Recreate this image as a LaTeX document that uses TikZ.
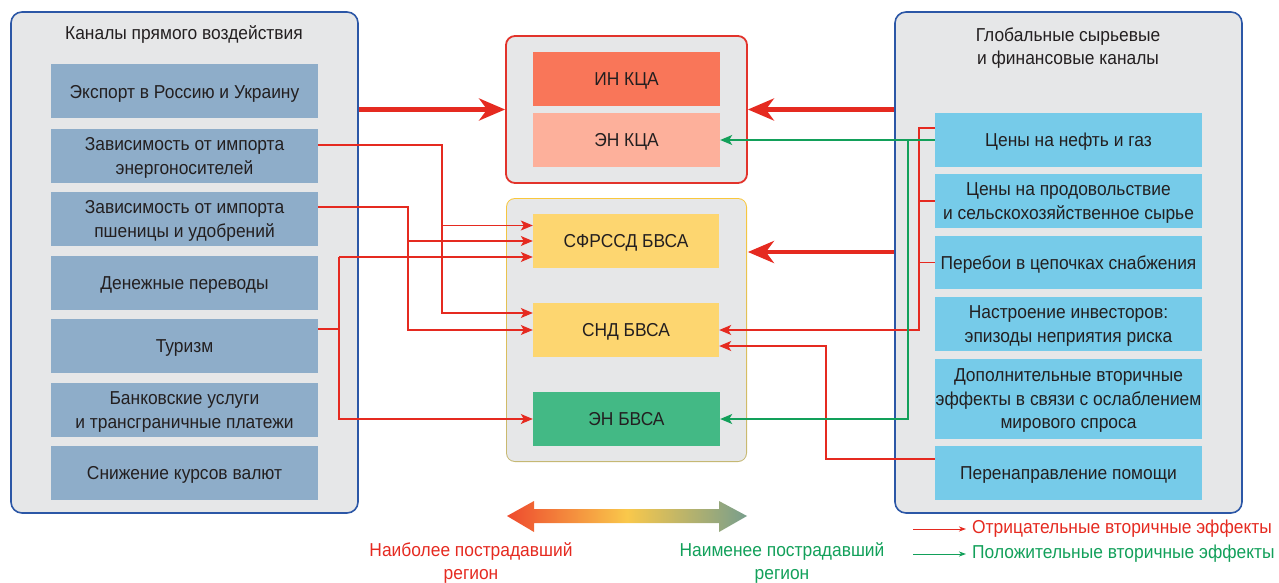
\documentclass[tikz,border=0pt]{standalone}
\usepackage{fontspec}
\setmainfont{Liberation Sans}[FakeStretch=0.93]
\usetikzlibrary{arrows.meta}
\definecolor{panelgray}{HTML}{E6E7E8}
\definecolor{panelblue}{HTML}{2C57A6}
\definecolor{leftbox}{HTML}{8EADC9}
\definecolor{rightbox}{HTML}{76CBE9}
\definecolor{inkca}{HTML}{F97659}
\definecolor{enkca}{HTML}{FDB09B}
\definecolor{bvsay}{HTML}{FDD670}
\definecolor{enbvsa}{HTML}{43B985}
\definecolor{negred}{HTML}{E52A20}
\definecolor{posgreen}{HTML}{12A05A}
\definecolor{kcaborder}{HTML}{E2332B}
\definecolor{bvsatop}{HTML}{F9C73C}
\definecolor{bvsabot}{HTML}{C5B874}
\definecolor{txt}{HTML}{231F20}
\definecolor{gradred}{HTML}{EE4A2E}
\definecolor{gradyellow}{HTML}{F9C84B}
\definecolor{gradgreen}{HTML}{789E8C}

\begin{document}
\begin{tikzpicture}[x=1pt,y=-1pt,line join=miter,
  every node/.style={font=\fontsize{18.7}{23.5}\selectfont,text=txt,align=center,inner sep=0pt},
  panel/.style={draw=panelblue,line width=1.6pt,fill=panelgray,rounded corners=11pt,minimum width=347pt,minimum height=501pt},
  container/.style={rounded corners=9pt,line width=1.8pt,minimum width=241pt},
  chan/.style={fill=leftbox,minimum width=267pt,minimum height=54pt,text depth=0pt},
  gchan/.style={fill=rightbox,minimum width=267pt,minimum height=54pt,text depth=0pt},
  region/.style={fill=#1,minimum width=187pt,minimum height=54pt,text depth=0pt},
  link/.style={draw=negred,line width=1.2pt},
  negline/.style={link,-{Stealth[length=12pt,width=10pt,inset=3pt]}},
  posline/.style={draw=posgreen,line width=1.2pt,-{Stealth[length=12pt,width=10pt,inset=3pt]}},
  bigarrow/.style={draw=negred,line width=4.5pt,-{Stealth[length=26pt,width=22pt,inset=8pt]}},
  legarrow/.style={draw=#1,line width=1pt,-{Stealth[length=7pt,width=5pt,inset=2pt]}}]
\useasboundingbox (0,0) rectangle (1279,583);

\node[panel] (direct) at (184.5,262.5) {};
\node (directtitle) at (184,35) {Каналы прямого воздействия};
\node[chan] (l1) at (184.5,91.5) {Экспорт в Россию и Украину};
\node[chan] (l2) at (184.5,156) {Зависимость от импорта\\энергоносителей};
\node[chan] (l3) at (184.5,219) {Зависимость от импорта\\пшеницы и удобрений};
\node[chan] (l4) at (184.5,283) {Денежные переводы};
\node[chan] (l5) at (184.5,346) {Туризм};
\node[chan] (l6) at (184.5,410) {Банковские услуги\\и трансграничные платежи};
\node[chan] (l7) at (184.5,473) {Снижение курсов валют};

\node[panel] (global) at (1068.5,262.5) {};
\node (globaltitle) at (1068,48) {Глобальные сырьевые\\и финансовые каналы};
\node[gchan] (r1) at (1068.5,140) {Цены на нефть и газ};
\node[gchan] (r2) at (1068.5,201) {Цены на продовольствие\\и сельскохозяйственное сырье};
\node[gchan,minimum height=53pt] (r3) at (1068.5,262.5) {Перебои в цепочках снабжения};
\node[gchan] (r4) at (1068.5,324) {Настроение инвесторов:\\эпизоды неприятия риска};
\node[gchan,minimum height=80pt] (r5) at (1068.5,399) {Дополнительные вторичные\\эффекты в связи с ослаблением\\мирового спроса};
\node[gchan] (r6) at (1068.5,473) {Перенаправление помощи};

\node[container,draw=kcaborder,fill=panelgray,minimum height=147pt] (kca) at (626.5,109.5) {};
\node[container,top color=bvsatop,bottom color=bvsabot,minimum height=264pt] (bvsa) at (626.5,330) {};
\fill[panelgray,rounded corners=7.5pt] ([shift={(2pt,-2pt)}]bvsa.north west) rectangle ([shift={(-2pt,2pt)}]bvsa.south east);
\node[region=inkca] (ink) at (626.5,79) {ИН КЦА};
\node[region=enkca] (enk) at (626.5,140) {ЭН КЦА};
\node[region=bvsay,minimum width=186pt] (sfr) at (626,241) {СФРССД БВСА};
\node[region=bvsay,minimum width=186pt] (snd) at (626,330) {СНД БВСА};
\node[region=enbvsa] (enb) at (626.5,419) {ЭН БВСА};

\draw[bigarrow] (direct.east |- kca.west) -- (kca.west);
\draw[bigarrow] (global.west |- kca.east) -- (kca.east);
\coordinate (sfrlow) at ([yshift=-11pt]sfr.east);
\draw[bigarrow] (global.west |- sfrlow) -- (bvsa.east |- sfrlow);

\coordinate (busA) at (442,0);
\coordinate (busB) at (408,0);
\coordinate (busC) at (339,0);
\coordinate (busD) at (919,0);
\coordinate (busE) at (908,0);
\coordinate (busF) at (826,0);
\coordinate (sfrA) at ([yshift=15.5pt]sfr.west);
\coordinate (sfrC) at ([yshift=-16pt]sfr.west);
\coordinate (sndA) at ([yshift=17pt]snd.west);
\coordinate (sndD) at ([yshift=-16pt]snd.east);
\coordinate (energy) at ([yshift=11pt]l2.east);
\coordinate (wheat) at ([yshift=12pt]l3.east);
\coordinate (tourism) at ([yshift=17pt]l5.east);
\coordinate (oilgas) at ([yshift=12pt]r1.west);
\coordinate (aid) at ([yshift=14pt]r6.west);

\draw[negline] (energy) -| (busA |- sndA) -- (sndA);
\draw[negline] (busA |- sfrA) -- (sfrA);
\draw[negline] (wheat) -| (busB |- snd.west) -- (snd.west);
\draw[negline] (busB |- sfr.west) -- (sfr.west);
\draw[link] (tourism) -- (tourism -| busC);
\draw[negline] (busC |- sfrC) -- (busC |- enb.west) -- (enb.west);
\draw[negline] (busC |- sfrC) -- (sfrC);

\draw[negline] (oilgas) -| (busD |- snd.east) -- (snd.east);
\draw[link] (r2.west) -- (r2.west -| busD);
\draw[link] (r3.west) -- (r3.west -| busD);
\draw[negline] (aid) -| (busF |- sndD) -- (sndD);
\draw[posline] (r1.west) -- (enk.east);
\draw[posline] (r1.west -| busE) |- (enb.east);

\shade[left color=gradred,right color=gradgreen,middle color=gradyellow]
  (507,516) -- (534,501) -- (534,509) -- (719,509) -- (719,501) -- (747,516)
  -- (719,532) -- (719,523) -- (534,523) -- (534,532) -- cycle;
\node[text=negred] (most) at (471,563) {Наиболее пострадавший\\регион};
\node[text=posgreen] (least) at (782,563) {Наименее пострадавший\\регион};

\coordinate (negstart) at (913,529);
\coordinate (posstart) at (913,554);
\node[anchor=west,text=negred,inner xsep=6pt] (legneg) at (966,529) {Отрицательные вторичные эффекты};
\node[anchor=west,text=posgreen,inner xsep=6pt] (legpos) at (966,554) {Положительные вторичные эффекты};
\draw[legarrow=negred] (negstart) -- (legneg.west);
\draw[legarrow=posgreen] (posstart) -- (legpos.west);
\end{tikzpicture}
\end{document}
